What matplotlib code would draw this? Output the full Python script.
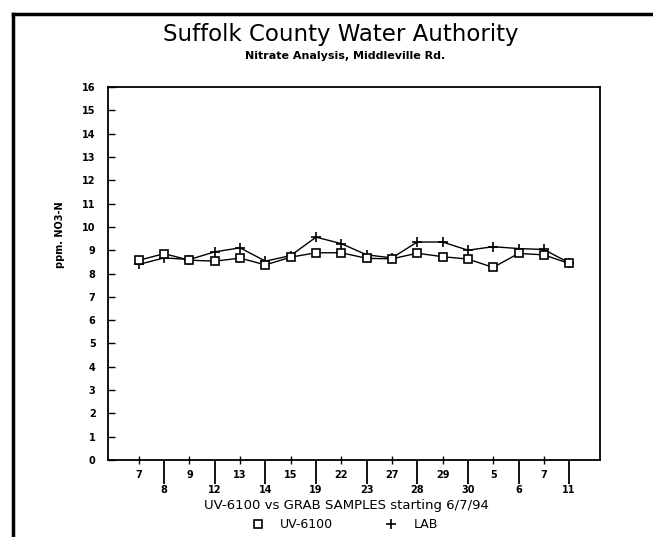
import matplotlib
matplotlib.use("Agg")
import matplotlib.pyplot as plt
from matplotlib.lines import Line2D

dates = ["7", "8", "9", "12", "13", "14", "15", "19", "22", "23",
         "27", "28", "29", "30", "5", "6", "7", "11"]
uv6100 = [8.57, 8.85, 8.57, 8.53, 8.66, 8.37, 8.70, 8.89, 8.89, 8.65,
          8.63, 8.87, 8.72, 8.62, 8.26, 8.86, 8.80, 8.43]
lab = [8.39, 8.67, 8.60, 8.93, 9.10, 8.53, 8.77, 9.56, 9.28, 8.80,
       8.67, 9.35, 9.35, 9.00, 9.15, 9.07, 9.03, 8.46]
yticks = list(range(0, 17))

fig = plt.figure(figsize=(6.53, 5.37), dpi=100)
fig.patch.set_facecolor("white")
ax = fig.add_axes([108/653, 1-460/537, (600-108)/653, (460-87)/537])

x = list(range(len(dates)))
ax.plot(x, uv6100, color="black", lw=1.0, marker="s", ms=6, mfc="white",
        mec="black", mew=1.2, label="UV-6100", zorder=3)
ax.plot(x, lab, color="black", lw=1.0, marker="+", ms=6.5, mew=1.2,
        label="LAB", zorder=2)

ax.set_xlim(-1.22, 18.22)
ax.set_ylim(0, 16)
for s in ax.spines.values():
    s.set_linewidth(1.3)

ax.set_yticks(yticks)
ax.set_yticklabels([str(v) for v in yticks], fontsize=7, fontweight="bold")
ax.tick_params(axis="y", direction="in", length=5, width=1, pad=9)

even = [i for i in x if i % 2 == 0]
odd = [i for i in x if i % 2 == 1]
ax.set_xticks(even)
ax.set_xticklabels([dates[i] for i in even], fontsize=7, fontweight="bold")
ax.set_xticks(odd, minor=True)
ax.set_xticklabels([dates[i] for i in odd], minor=True, fontsize=7,
                   fontweight="bold")
ax.tick_params(axis="x", which="major", direction="inout", length=6,
               width=1, pad=4)
ax.tick_params(axis="x", which="minor", direction="out", length=17,
               width=1.3, pad=1)

ax.set_xlabel("UV-6100 vs GRAB SAMPLES starting 6/7/94", fontsize=9.5,
              labelpad=0)
ax.xaxis.set_label_coords((346-108)/492, -(505-460)/373, transform=ax.transAxes)
ax.xaxis.label.set_verticalalignment("center")

fig.text(60/653, 1-235/537, "ppm. NO3-N", rotation=90, fontsize=7,
         fontweight="bold", ha="center", va="center")

fig.text(341/653, 1-35/537, "Suffolk County Water Authority", fontsize=16.5,
         ha="center", va="center")
fig.text(345/653, 1-56/537, "Nitrate Analysis, Middleville Rd.", fontsize=8,
         fontweight="bold", ha="center", va="center")

leg = fig.legend(loc="center", bbox_to_anchor=(344/653, 1-525/537),
                 ncol=2, frameon=False, handlelength=1.2, handletextpad=1.2,
                 columnspacing=4.0, fontsize=9, markerscale=1.0)
for h in leg.legend_handles:
    h.set_linestyle("none")

# page frame lines
fig.add_artist(Line2D([13/653, 1], [1-14/537, 1-14/537], color="black",
                      lw=2.5, transform=fig.transFigure))
fig.add_artist(Line2D([13/653, 13/653], [0, 1-14/537], color="black",
                      lw=2.5, transform=fig.transFigure))

fig.savefig("out.png", dpi=100)
